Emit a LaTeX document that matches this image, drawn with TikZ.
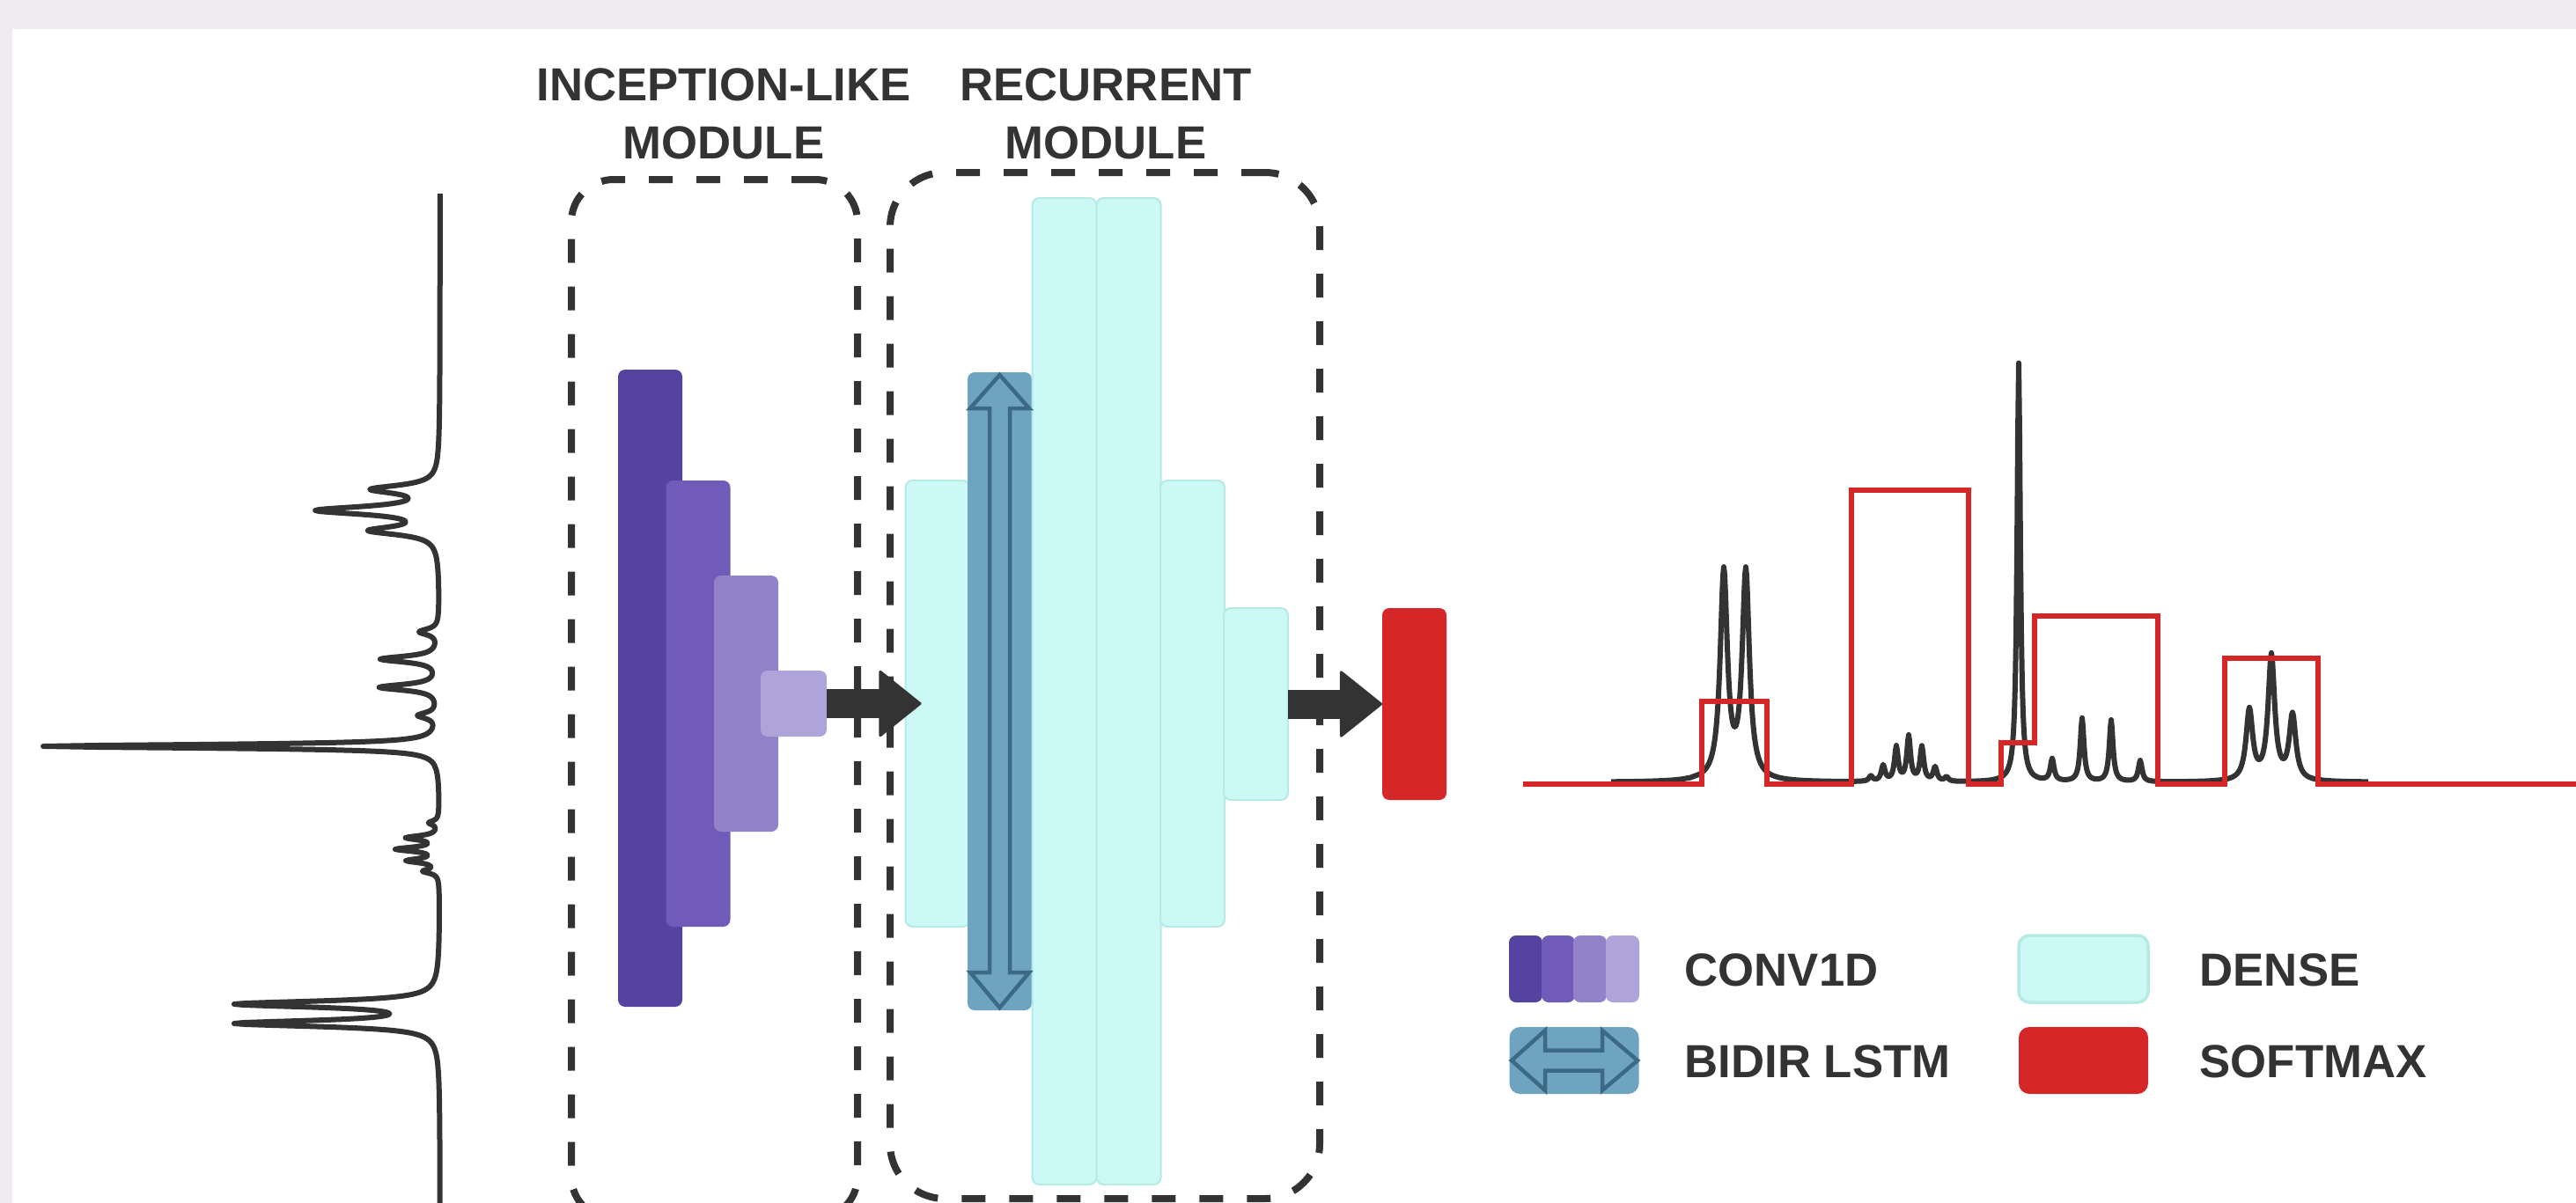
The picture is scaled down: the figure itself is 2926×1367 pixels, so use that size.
\documentclass[tikz,border=0pt]{standalone}
\usepackage{fontspec}
\setmainfont{Liberation Sans}
\usetikzlibrary{arrows.meta}
\definecolor{bgl}{HTML}{F0EAF1}
\definecolor{ink}{HTML}{333333}
\definecolor{cA}{HTML}{5444A0}
\definecolor{cB}{HTML}{705CB8}
\definecolor{cC}{HTML}{9182C9}
\definecolor{cD}{HTML}{AEA4D9}
\definecolor{lstmc}{HTML}{6FA4C1}
\definecolor{lstmd}{HTML}{3C6A85}
\definecolor{densef}{HTML}{CCF9F5}
\definecolor{densed}{HTML}{B5EAE5}
\definecolor{redc}{HTML}{D62728}
\begin{document}
\begin{tikzpicture}[x=0.1mm,y=-0.1mm,
  declare function={lor(\t,\c,\a,\w)=\a/(1+pow(min(abs(\t-\c)/\w,100),2));},
  blk/.style={rectangle,rounded corners=0.08cm,inner sep=0,outer sep=0,minimum width=0.73cm},
  conv/.style={blk,draw=none},
  dense/.style={blk,fill=densef,draw=densed,line width=0.02cm},
  lstm/.style={blk,fill=lstmc},
  smax/.style={blk,fill=redc},
  legicon/.style={rectangle,rounded corners=0.12cm,inner sep=0,outer sep=0,minimum width=1.47cm,minimum height=0.76cm},
  modbox/.style={draw=ink,line width=0.08cm,dash pattern=on 0.27cm off 0.27cm,inner sep=0,outer sep=0},
  lbl/.style={font=\bfseries\fontsize{15}{18}\selectfont,text=ink,inner sep=0,anchor=base},
  leg/.style={lbl,anchor=base west},
  flow/.style={draw=ink,line width=0.33cm,-{Triangle[length=0.49cm,width=0.78cm,line width=0.03cm,round]}},
  spec/.style={draw=ink,line width=0.06cm,line join=round},
  steps/.style={draw=redc,line width=0.055cm},
  dbl/.style={draw=lstmd,line width=0.045cm,line join=miter}]
\useasboundingbox (0,0) rectangle (2926,1367);
\clip (0,0) rectangle (2926,1367);
\fill[bgl] (0,0) rectangle (2926,1367);
\fill[white] (14,33) rectangle (2926,1367);

% headings
\node[lbl] (h1a) at (822,114) {INCEPTION-LIKE};
\node[lbl] (h1b) at (822,180) {MODULE};
\node[lbl] (h2a) at (1256,114) {RECURRENT};
\node[lbl] (h2b) at (1256,180) {MODULE};

% module boxes
\node[modbox,rounded corners=0.48cm,minimum width=3.25cm,minimum height=11.81cm] (mod1) at (811.5,794.5) {};
\node[modbox,rounded corners=0.62cm,minimum width=4.88cm,minimum height=11.66cm] (mod2) at (1255,779) {};

% conv1d blocks
\node[conv,fill=cA,minimum height=7.24cm] (c1) at (738.5,782) {};
\node[conv,fill=cB,minimum height=5.07cm] (c2) at (793,799.5) {};
\node[conv,fill=cC,minimum height=2.91cm] (c3) at (847.5,799.5) {};
\node[conv,fill=cD,minimum width=0.75cm,minimum height=0.75cm] (c4) at (901.5,799.5) {};

% recurrent module blocks
\node[dense,minimum height=5.07cm] (d1) at (1065,799.5) {};
\node[lstm,minimum height=7.25cm] (ls) at (1135.5,785.5) {};
\node[dense,minimum height=11.21cm] (d2) at (1209,785.5) {};
\node[dense,minimum height=11.21cm] (d3) at (1282,785.5) {};
\node[dense,minimum height=5.07cm] (d4) at (1354.5,799.5) {};
\node[dense,minimum height=2.18cm] (d5) at (1426.5,800) {};
\node[smax,minimum height=2.18cm] (sm) at (1606.5,800) {};

% bidirectional arrow inside lstm
\begin{scope}[shift={(ls.center)}]
\draw[dbl] (0,-359.5) -- (33.5,-321.5) -- (11.5,-321.5) -- (11.5,319.5) -- (33.5,319.5)
  -- (0,359.5) -- (-33.5,319.5) -- (-11.5,319.5) -- (-11.5,-321.5) -- (-33.5,-321.5) -- cycle;
\end{scope}

% flow arrows
\draw[flow] (c4.east) -- ([xshift=0.18cm]d1.west);
\draw[flow] (d5.east) -- (sm.west);

% left (input) spectrum, drawn vertically
\draw[spec] plot[variable=\t,samples at={220,230,...,520,521,522,...,640,645,650,...,700,701,702,...,870,875,880,...,915,916,917,...,1010,1015,1020,...,1095,1096,1097,...,1210,1220,1230,...,1370}]
 ({500-(lor(\t,556,72,5.5)+lor(\t,580,134,5.5)+lor(\t,603,74,5.5)
  +lor(\t,718,22,4)+lor(\t,749,66,4)+lor(\t,781,67,4)+lor(\t,813,22,4)
  +lor(\t,848,450,2.5)
  +lor(\t,935,11,2.8)+lor(\t,952,36,2.8)+lor(\t,965,47,2.8)+lor(\t,978,35,2.8)+lor(\t,990,17,2.8)
  +lor(\t,1141,226,4.2)+lor(\t,1163,226,4.2))},\t);

% right (output) spectrum
\draw[spec] plot[variable=\t,samples at={1830,1840,...,1930,1931,1932,...,2015,2020,2025,...,2115,2116,2117,...,2225,2230,2235,...,2270,2271,2272,...,2445,2450,2455,...,2530,2531,2532,...,2630,2640,2650,...,2690}]
 (\t,{889-(lor(\t,1958,236,4.9)+lor(\t,1983,236,4.9)
  +lor(\t,2125,6,2.5)+lor(\t,2139,18,2.5)+lor(\t,2154,39,2.5)+lor(\t,2168,51,2.5)+lor(\t,2183,39,2.5)+lor(\t,2198,16,2.5)+lor(\t,2211,5,2.5)
  +lor(\t,2293,476,2.2)
  +lor(\t,2331,25,2.5)+lor(\t,2365,72,2.5)+lor(\t,2398,70,2.5)+lor(\t,2431,24,2.5)
  +lor(\t,2555,80,4.5)+lor(\t,2580,142,4.5)+lor(\t,2604,74,4.5))});

% segmentation step line
\draw[steps] (1730,891) -- (1933,891) -- (1933,797) -- (2007,797) -- (2007,891) -- (2103,891)
  -- (2103,557) -- (2236,557) -- (2236,891) -- (2273,891) -- (2273,844) -- (2311,844)
  -- (2311,700) -- (2451,700) -- (2451,891) -- (2527,891) -- (2527,748) -- (2633,748)
  -- (2633,891) -- (2930,891);

% legend
\node[conv,fill=cA,minimum width=0.38cm,minimum height=0.76cm] (lc1) at (1733,1101) {};
\node[conv,fill=cB,minimum width=0.38cm,minimum height=0.76cm] (lc2) at (1770,1101) {};
\node[conv,fill=cC,minimum width=0.38cm,minimum height=0.76cm] (lc3) at (1806,1101) {};
\node[conv,fill=cD,minimum width=0.38cm,minimum height=0.76cm] (lc4) at (1843,1101) {};
\node[leg] (tconv) at (1913,1120) {CONV1D};

\node[legicon,fill=lstmc] (lls) at (1788,1205) {};
\begin{scope}[shift={(lls.center)}]
\draw[dbl] (-71,0) -- (-33,-34) -- (-33,-11.5) -- (32,-11.5) -- (32,-34) -- (72,0)
  -- (32,34) -- (32,11.5) -- (-33,11.5) -- (-33,34) -- cycle;
\end{scope}
\node[leg] (tls) at (1913,1224) {BIDIR LSTM};

\node[legicon,fill=densef,draw=densed,line width=0.035cm] (ld) at (2366.5,1101) {};
\node[leg] (td) at (2498,1120) {DENSE};
\node[legicon,fill=redc] (lsm) at (2366.5,1205) {};
\node[leg] (tsm) at (2498,1224) {SOFTMAX};
\end{tikzpicture}
\end{document}
